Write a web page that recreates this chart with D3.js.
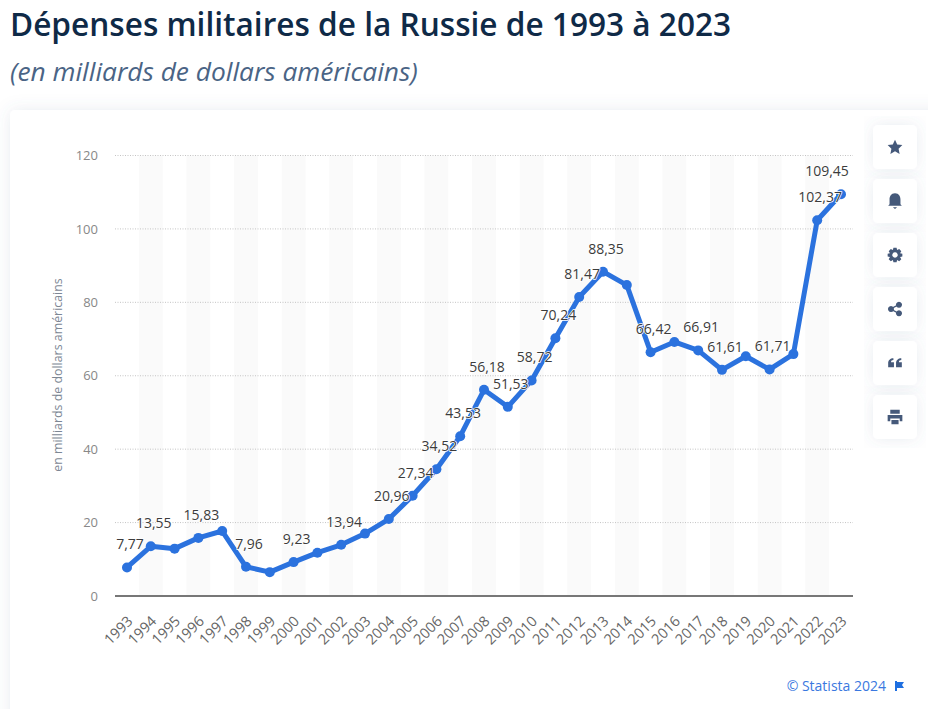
<!DOCTYPE html>
<html>
<head>
<meta charset="utf-8">
<title>Dépenses militaires de la Russie</title>
<script src="https://cdn.jsdelivr.net/npm/d3@7"></script>
<style>
    body { margin: 0; background: #fff; overflow: hidden; }
    text { font-family: "Open Sans", sans-serif; }
    .grid line { stroke: #c4c4c4; stroke-dasharray: 1 1.5; }
    .y-axis text { fill: #888; font-size: 13px; font-family: "Open Sans", sans-serif; }
    .x-axis text { fill: #666; font-size: 14.5px; font-family: "Open Sans", sans-serif; }
    .point-label { fill: #3c3c3c; font-size: 14px; paint-order: stroke; stroke: #fff; stroke-width: 1.5px; }
</style>
</head>
<body>
<svg id="chart" width="928" height="709"></svg>
<script>
/*globals d3*/

var years = [1993, 1994, 1995, 1996, 1997, 1998, 1999, 2000, 2001, 2002, 2003,
    2004, 2005, 2006, 2007, 2008, 2009, 2010, 2011, 2012, 2013,
    2014, 2015, 2016, 2017, 2018, 2019, 2020, 2021, 2022, 2023];
var spending = [7.77, 13.55, 12.9, 15.83, 17.7, 7.96, 6.5, 9.23, 11.8, 13.94, 17,
    20.96, 27.34, 34.52, 43.53, 56.18, 51.53, 58.72, 70.24, 81.47, 88.35,
    84.7, 66.42, 69.2, 66.91, 61.61, 65.3, 61.71, 65.9, 102.37, 109.45];
// Only these years carry a value label in the original
var labelledYears = [1993, 1994, 1996, 1998, 2000, 2002, 2004, 2005, 2006, 2007, 2008,
    2009, 2010, 2011, 2012, 2013, 2015, 2017, 2018, 2020, 2022, 2023];
var yTicks = [0, 20, 40, 60, 80, 100, 120];

var svg = d3.select("#chart");

var data = years.map(function (y, i) {
    return { year: y, value: spending[i] };
});

var plotLeft = 115, plotRight = 853, plotTop = 155.5, plotBottom = 596;

// Scales
var xScale = d3.scaleLinear().domain([1993, 2023]).range([127, 841]);
var yScale = d3.scaleLinear().domain([0, 120]).range([plotBottom, plotTop]);
var step = xScale(1994) - xScale(1993);

// Headings
svg.append("text").attr("x", 10).attr("y", 36)
    .attr("font-size", 31.6).attr("font-weight", 600).attr("fill", "#0f2a47")
    .text("Dépenses militaires de la Russie de 1993 à 2023");
svg.append("text").attr("x", 10).attr("y", 81)
    .attr("font-size", 26.3).attr("font-style", "italic").attr("fill", "#4a6485")
    .text("(en milliards de dollars américains)");

// Card and its shadow
var defs = svg.append("defs");
var shadow = defs.append("filter").attr("id", "shadow")
    .attr("x", "-20%").attr("y", "-20%").attr("width", "140%").attr("height", "140%");
shadow.append("feDropShadow").attr("dx", 0).attr("dy", 0).attr("stdDeviation", 8)
    .attr("flood-color", "#5a7090").attr("flood-opacity", 0.13);

svg.append("rect").attr("x", 10).attr("y", 110).attr("width", 960).attr("height", 640)
    .attr("rx", 5).attr("fill", "#fff").attr("filter", "url(#shadow)");

// Alternating bands on even years
svg.append("g").selectAll("rect")
    .data(data.filter(function (d) { return d.year % 2 === 0; }))
    .enter()
    .append("rect")
    .attr("x", function (d) { return xScale(d.year) - step / 2; })
    .attr("y", plotTop)
    .attr("width", step)
    .attr("height", plotBottom - plotTop)
    .attr("fill", "#fafafa");

// Grid lines + y axis labels
var yAxis = svg.append("g").attr("class", "y-axis")
    .attr("transform", "translate(" + plotLeft + ",0)")
    .call(d3.axisLeft(yScale).tickValues(yTicks).tickSize(0).tickPadding(17));
yAxis.select(".domain").remove();

svg.append("g").attr("class", "grid")
    .selectAll("line")
    .data(yTicks.filter(function (d) { return d > 0; }))
    .enter()
    .append("line")
    .attr("x1", plotLeft).attr("x2", plotRight)
    .attr("y1", function (d) { return yScale(d); })
    .attr("y2", function (d) { return yScale(d); });

// x axis
var xAxis = svg.append("g").attr("class", "x-axis")
    .attr("transform", "translate(0," + plotBottom + ")")
    .call(d3.axisBottom(xScale).tickValues(years).tickFormat(d3.format("d")).tickSize(0));
xAxis.select(".domain").remove();
xAxis.selectAll("text")
    .attr("text-anchor", "end")
    .attr("dy", 0)
    .attr("transform", function () {
        return "translate(4,24) rotate(-45)";
    });

svg.append("line")
    .attr("x1", plotLeft).attr("x2", plotRight)
    .attr("y1", plotBottom).attr("y2", plotBottom)
    .attr("stroke", "#777").attr("stroke-width", 2);

svg.append("text")
    .attr("transform", "translate(62,375) rotate(-90)")
    .attr("text-anchor", "middle")
    .attr("font-size", 12.4)
    .attr("fill", "#7d8794")
    .text("en milliards de dollars américains");

// Line
var lineGenerator = d3.line()
    .x(function (d) { return xScale(d.year); })
    .y(function (d) { return yScale(d.value); });

svg.append("path")
    .attr("d", lineGenerator(data))
    .attr("fill", "none")
    .attr("stroke", "#2b72de")
    .attr("stroke-width", 5)
    .attr("stroke-linejoin", "round");

svg.append("g").selectAll("circle")
    .data(data)
    .enter()
    .append("circle")
    .attr("cx", function (d) { return xScale(d.year); })
    .attr("cy", function (d) { return yScale(d.value); })
    .attr("r", 5)
    .attr("fill", "#2b72de");

// Value labels
svg.append("g").selectAll("text")
    .data(data.filter(function (d) { return labelledYears.indexOf(d.year) >= 0; }))
    .enter()
    .append("text")
    .attr("class", "point-label")
    .attr("text-anchor", "middle")
    .attr("x", function (d) {
        return xScale(d.year) + (d.year === 2023 ? -14 : 3);
    })
    .attr("y", function (d) { return yScale(d.value) - 18; })
    .text(function (d) { return String(d.value.toFixed(2)).replace(".", ","); });

// Side buttons
var buttonIcons = [
    "M0,-7 L2.1,-2.3 L7,-1.8 L3.4,1.6 L4.4,6.6 L0,4 L-4.4,6.6 L-3.4,1.6 L-7,-1.8 L-2.1,-2.3 Z",
    "M0,-7.5 C3.8,-7.5 5.2,-4.5 5.2,-1.5 L5.2,3 L6.5,4.6 L-6.5,4.6 L-5.2,3 L-5.2,-1.5 C-5.2,-4.5 -3.8,-7.5 0,-7.5 Z M-2,6 L2,6 L0,7.6 Z",
    "M-1.5,-7 L1.5,-7 L2,-4.8 L4,-5.8 L6,-3.6 L4.8,-1.6 L7,-1.2 L7,1.5 L4.8,2 L6,4 L4,6 L2,4.8 L1.5,7 L-1.5,7 L-2,4.8 L-4,6 L-6,4 L-4.8,2 L-7,1.5 L-7,-1.2 L-4.8,-1.6 L-6,-3.6 L-4,-5.8 L-2,-4.8 Z M0,-2.6 A2.6,2.6 0 1 0 0.01,-2.6 Z",
    "M3.8,-7 A2.9,2.9 0 1 1 3.79,-7 Z M-3.8,-2.9 A2.9,2.9 0 1 1 -3.81,-2.9 Z M3.8,1.2 A2.9,2.9 0 1 1 3.79,1.2 Z M-3.8,-1 L3.8,-5 L3.8,-3.6 L-3.8,0.4 Z M-3.8,-0.4 L3.8,3.6 L3.8,5 L-3.8,1 Z",
    "M-6.5,4 L-6.5,0 C-6.5,-2.5 -4.5,-4.5 -1.5,-4.5 L-1.5,-2.8 C-3,-2.8 -3.8,-2 -3.8,-0.8 L-1,-0.8 L-1,4 Z M1,4 L1,0 C1,-2.5 3,-4.5 6,-4.5 L6,-2.8 C4.5,-2.8 3.7,-2 3.7,-0.8 L6.5,-0.8 L6.5,4 Z",
    "M-4.5,-7 L4.5,-7 L4.5,-3 L-4.5,-3 Z M-7,-2 L7,-2 L7,4 L4.5,4 L4.5,1.5 L-4.5,1.5 L-4.5,4 L-7,4 Z M-3.4,2.8 L3.4,2.8 L3.4,7 L-3.4,7 Z"
];

var buttons = svg.append("g").selectAll("g")
    .data(buttonIcons)
    .enter()
    .append("g")
    .attr("transform", function (d, i) {
        return "translate(895," + (147 + i * 54) + ")";
    });
buttons.append("rect")
    .attr("x", -22).attr("y", -22).attr("width", 44).attr("height", 44)
    .attr("rx", 5).attr("fill", "#fff").attr("filter", "url(#shadow)");
buttons.append("path")
    .attr("d", function (d) { return d; })
    .attr("transform", "scale(1.05)")
    .attr("fill", "#45597a");

// Source
svg.append("text")
    .attr("x", 886).attr("y", 691)
    .attr("text-anchor", "end")
    .attr("font-size", 14)
    .attr("fill", "#3a78e0")
    .text("© Statista 2024");
svg.append("path")
    .attr("d", "M895,681 L897,681 L897,682 L904,682 L902,685 L904,688 L897,688 L897,691 L895,691 Z")
    .attr("fill", "#1f6fe0");
</script>
</body>
</html>
